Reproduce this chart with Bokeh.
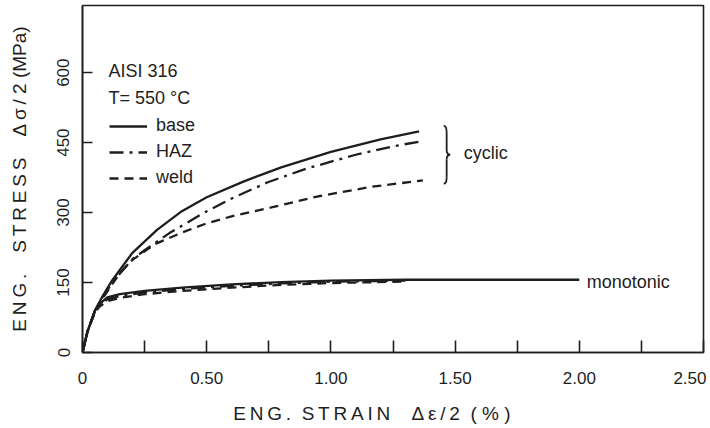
from bokeh.plotting import figure
from bokeh.models import FixedTicker, Label, Legend, LegendItem
from bokeh.embed import file_html
from bokeh.resources import INLINE

# ---------------- data ----------------
x_ticks = [0, 0.25, 0.5, 0.75, 1.0, 1.25, 1.5, 1.75, 2.0, 2.25, 2.5]
x_tick_labels = ["0", "", "0.50", "", "1.00", "", "1.50", "", "2.00", "", "2.50"]
y_ticks = [0, 150, 300, 450, 600]

cyc_base_strain = [0, 0.02, 0.05, 0.08, 0.12, 0.2, 0.3, 0.4, 0.5, 0.65, 0.8, 1.0, 1.2, 1.355]
cyc_base_stress = [0, 45, 90, 120, 155, 213, 263, 303, 333, 367, 397, 430, 457, 474]

cyc_haz_strain = [0, 0.02, 0.05, 0.08, 0.12, 0.2, 0.26, 0.35, 0.49, 0.6, 0.746, 0.9, 1.1, 1.25, 1.375]
cyc_haz_stress = [0, 45, 90, 118, 150, 200, 223, 256, 300, 330, 365, 394, 424, 442, 454]

cyc_weld_strain = [0, 0.02, 0.05, 0.08, 0.15, 0.2, 0.29, 0.4, 0.49, 0.6, 0.76, 0.95, 1.16, 1.37]
cyc_weld_stress = [0, 45, 88, 115, 170, 198, 232, 257, 275, 292, 311, 335, 355, 369]

mono_base_strain = [0, 0.02, 0.05, 0.07, 0.1, 0.15, 0.25, 0.4, 0.6, 0.8, 1.0, 1.3, 1.6, 2.0]
mono_base_stress = [0, 45, 90, 105, 118, 125, 132, 139, 146, 151, 154, 156, 156, 156]

mono_haz_strain = [0, 0.02, 0.05, 0.07, 0.1, 0.15, 0.25, 0.4, 0.6, 0.8, 1.0, 1.3]
mono_haz_stress = [0, 45, 88, 102, 114, 121, 129, 136, 143, 148, 152, 154]

mono_weld_strain = [0, 0.02, 0.05, 0.07, 0.1, 0.15, 0.25, 0.4, 0.6, 0.8, 1.0, 1.3]
mono_weld_stress = [0, 45, 86, 99, 110, 117, 125, 132, 139, 145, 149, 152]

INK = "#1e1e1e"
FONT = "Liberation Sans"
TS = "\u2009"   # thin space used for the letter-spaced axis titles
NB = "\u00a0"   # non-breaking space (not collapsed in SVG text)

def spaced(word):
    return TS.join(word)

y_title = (spaced("ENG.") + NB * 4 + spaced("STRESS") + NB * 4 + spaced("Δσ/") + NB
           + "2" + NB + "(MPa)")
x_title = (spaced("ENG.") + NB * 2 + spaced("STRAIN") + NB * 4 + spaced("Δε/2") + NB * 2
           + "(" + NB + "%" + NB + ")" + NB * 8)

p = figure(width=706, height=426, x_range=(0, 2.5), y_range=(0, 744),
           output_backend="svg", toolbar_location=None,
           min_border_left=82, min_border_right=3, min_border_top=5, min_border_bottom=74)
p.background_fill_color = "white"
p.border_fill_color = "white"
p.outline_line_color = INK
p.outline_line_width = 1.6
p.xgrid.visible = False
p.ygrid.visible = False

# axes
p.xaxis.ticker = FixedTicker(ticks=x_ticks)
p.xaxis.major_label_overrides = {t: l for t, l in zip(x_ticks, x_tick_labels)}
p.yaxis.ticker = FixedTicker(ticks=y_ticks)
for ax in (p.xaxis[0], p.yaxis[0]):
    ax.axis_line_color = INK
    ax.axis_line_width = 1.6
    ax.major_tick_line_color = INK
    ax.major_tick_line_width = 1.6
    ax.major_tick_out = 0
    ax.minor_tick_line_color = None
    ax.major_label_text_font = FONT
    ax.major_label_text_font_size = "17px"
    ax.major_label_text_color = INK
    ax.axis_label_text_font = FONT
    ax.axis_label_text_font_style = "normal"
    ax.axis_label_text_font_size = "19px"
    ax.axis_label_text_color = INK
p.xaxis.major_tick_in = 12
p.xaxis.major_label_standoff = 19
p.xaxis.axis_label = x_title
p.xaxis.axis_label_standoff = 16
p.yaxis.major_tick_in = 10
p.yaxis.major_label_orientation = "vertical"
p.yaxis.major_label_standoff = 13
p.yaxis.axis_label = y_title
p.yaxis.axis_label_standoff = 25

# curves
lw = 2.3
r_base = p.line(cyc_base_strain, cyc_base_stress, line_color=INK, line_width=lw)
r_haz = p.line(cyc_haz_strain, cyc_haz_stress, line_color=INK, line_width=lw, line_dash="14 6 3 6")
r_weld = p.line(cyc_weld_strain, cyc_weld_stress, line_color=INK, line_width=lw, line_dash="9 6")
p.line(mono_weld_strain, mono_weld_stress, line_color=INK, line_width=lw, line_dash="9 6")
p.line(mono_haz_strain, mono_haz_stress, line_color=INK, line_width=lw, line_dash="14 6 3 6")
p.line(mono_base_strain, mono_base_stress, line_color=INK, line_width=lw)

legend = Legend(items=[LegendItem(label="base", renderers=[r_base]),
                       LegendItem(label="HAZ", renderers=[r_haz]),
                       LegendItem(label="weld", renderers=[r_weld])],
                location=(27, 164), background_fill_alpha=0, border_line_color=None,
                padding=0, margin=0, spacing=5, glyph_width=38, glyph_height=20,
                label_height=20, label_standoff=9,
                label_text_font=FONT, label_text_font_size="18px", label_text_color=INK)
p.add_layout(legend, "center")

def lab(x, y, text, size="18px"):
    p.add_layout(Label(x=x, y=y, text=text, text_font=FONT, text_font_size=size,
                       text_color=INK, text_align="left", text_baseline="middle"))

lab(0.105, 604, "AISI  316")
lab(0.105, 546, "T= 550 °C")
lab(2.03, 152, "monotonic")
lab(1.535, 428, "cyclic")

# brace for "cyclic"
bx, ytop, ybot = 1.466, 486, 362
ymid = (ytop + ybot) / 2
p.quadratic(x0=[bx - 0.012, bx, bx, bx - 0.012], y0=[ytop, ymid + 10, ymid - 10, ybot],
            x1=[bx, bx + 0.014, bx + 0.014, bx], y1=[ytop - 14, ymid, ymid, ybot + 14],
            cx=[bx, bx, bx, bx], cy=[ytop, ymid, ymid, ybot], line_color=INK, line_width=1.8)
p.segment(x0=[bx, bx], y0=[ytop - 14, ymid - 10], x1=[bx, bx], y1=[ymid + 10, ybot + 14],
          line_color=INK, line_width=1.8)

open("out.html", "w").write(file_html(p, INLINE))
